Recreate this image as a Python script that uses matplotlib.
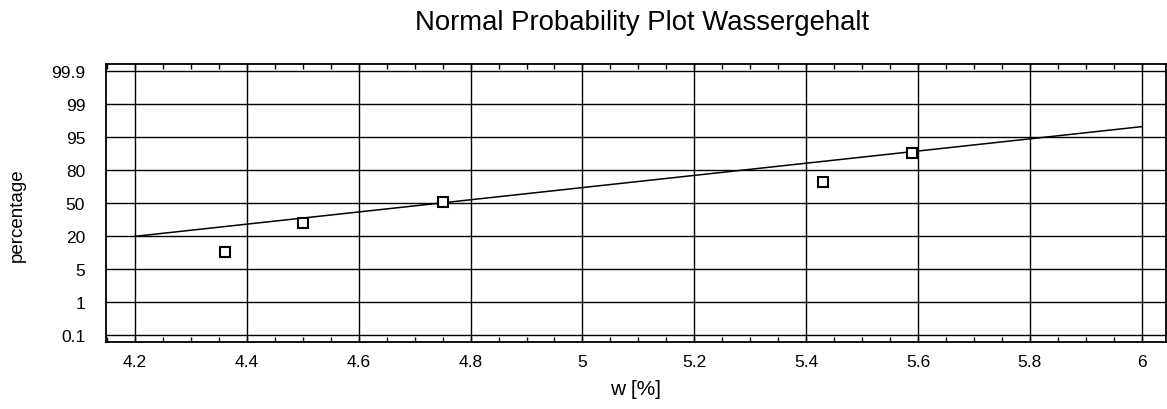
import numpy as np
import matplotlib
matplotlib.use("Agg")
from matplotlib import pyplot as plt
from matplotlib.ticker import MultipleLocator
from statistics import NormalDist

plt.rcParams['font.family'] = ['Liberation Sans', 'DejaVu Sans']

# Messwerte Wassergehalt und Plotting-Positionen (%)
w_werte = [4.36, 4.50, 4.75, 5.43, 5.59]
prozent = [10, 30, 50, 70, 90]

# Ausgleichsgerade (Endpunkte in %)
fit_x = [4.2, 6.0]
fit_p = [19.1, 97.5]

y_labels = ["0.1", "1", "5", "20", "50", "80", "95", "99", "99.9"]
x_ticks = [4.2, 4.4, 4.6, 4.8, 5, 5.2, 5.4, 5.6, 5.8, 6]


def z(p):
    return [NormalDist().inv_cdf(v / 100.0) for v in p]


fig = plt.figure(figsize=(11.67, 4.10), dpi=100)
ax = fig.add_axes([106 / 1167, 67 / 410, 1060 / 1167, 278 / 410])

ax.plot(fit_x, z(fit_p), color="black", lw=1.1, zorder=3)
ax.plot(w_werte, z(prozent), ls="none", marker="s", ms=7, mew=1.5,
        mfc="white", mec="black", zorder=4)

ax.set_xlim(4.148, 6.0435)
ax.set_ylim(-3.605, 3.579)

# Achsenbeschriftung wie im Original gleichmaessig verteilt
y_pos = -3.424 + 0.852 * np.arange(len(y_labels))
ax.set_yticks(y_pos)
ax.set_yticklabels(y_labels)
ax.set_xticks(x_ticks)
ax.set_xticklabels([("%g" % v) for v in x_ticks])
ax.xaxis.set_minor_locator(MultipleLocator(0.05))

ax.grid(True, which="major", color="black", lw=1.0)
ax.tick_params(axis="x", which="both", direction="in", top=True, bottom=True,
               labelsize=12.5, pad=9, width=1.0)
ax.tick_params(axis="x", which="minor", length=3.5)
ax.tick_params(axis="x", which="major", length=3.5)
ax.tick_params(axis="y", length=0, labelsize=12.5, pad=15)
for s in ax.spines.values():
    s.set_linewidth(1.3)

ax.set_xlabel("w [%]", fontsize=15, labelpad=7)
ax.set_ylabel("percentage", fontsize=13.5)
ax.yaxis.set_label_coords(-80 / 1060, 0.46)
fig.text(642 / 1167, 1 - 23 / 410, "Normal Probability Plot Wassergehalt",
         ha="center", va="center", fontsize=19.8)

fig.savefig("out.png", dpi=100)
